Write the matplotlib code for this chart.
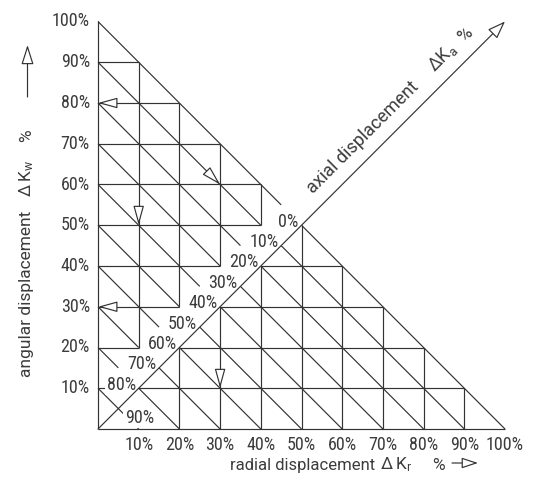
import math
import matplotlib
matplotlib.use('Agg')
import matplotlib.pyplot as plt

# scale values (percent)
radial_ticks = [10, 20, 30, 40, 50, 60, 70, 80, 90, 100]
angular_ticks = [10, 20, 30, 40, 50, 60, 70, 80, 90, 100]
tick_labels = ['10%', '20%', '30%', '40%', '50%', '60%', '70%', '80%', '90%', '100%']

# axial scale: value -> position on the diagonal (radial = angular)
axial_values = [0, 10, 20, 30, 40, 50, 60, 70, 80, 90]
axial_pos = [50, 45, 40, 35, 30, 25, 20, 15, 10, 5]

# example reading arrows: (radial %, angular %, direction deg)
example_arrows = [(0, 80, 180), (0, 30, 180), (10, 50, 270), (30, 60, 315), (30, 10, 270)]

line_col = '#333333'
text_col = '#3c3c3c'
lw = 0.85

plt.rcParams['font.family'] = ['Roboto', 'DejaVu Sans']
plt.rcParams['mathtext.default'] = 'regular'
num_family = ['Roboto Condensed', 'Roboto', 'DejaVu Sans']

fig = plt.figure(figsize=(5.39, 4.90), dpi=100)
ax = fig.add_axes([98 / 539, 61 / 490, 407 / 539, 407.5 / 490])
ax.set_xlim(0, 100)
ax.set_ylim(0, 100)
ax.axis('off')


def seg(p, q, z=2):
    ax.plot([p[0], q[0]], [p[1], q[1]], color=line_col, lw=lw, clip_on=False,
            solid_capstyle='butt', zorder=z)


# outer axes lines
seg((0, 0), (100, 0), z=4)
seg((0, 0), (0, 100), z=4)

# upper-left field (angular side)
for k in range(20, 100, 10):
    seg((0, k), (min(100 - k, k - 10), k))
for k in range(10, 50, 10):
    seg((k, k + 10), (k, 100 - k))
for c in range(10, 101, 10):
    end = c / 2 - 5 if c > 10 else c / 2
    seg((0, c), (end, c - end))

# lower-right field (radial side)
for k in range(10, 50, 10):
    seg((0 if k == 10 else k, k), (100 - k, k))
for k in range(20, 100, 10):
    seg((k, 0), (k, min(k, 100 - k)))
for c in range(10, 101, 10):
    seg((c / 2, c / 2), (c, 0))

# axial axis (diagonal) with open arrow head
ax.annotate('', xy=(100, 100), xytext=(0, 0), zorder=4, annotation_clip=False,
            arrowprops=dict(arrowstyle='-|>,head_length=1.1,head_width=0.4',
                            fc='white', ec=line_col, lw=lw, shrinkA=0, shrinkB=0))

# example arrows (open heads)
for x, y, ang in example_arrows:
    dx = -12 * math.cos(math.radians(ang))
    dy = -12 * math.sin(math.radians(ang))
    ax.annotate('', xy=(x, y), xytext=(dx, dy), textcoords='offset points', zorder=5,
                annotation_clip=False,
                arrowprops=dict(arrowstyle='-|>,head_length=1.2,head_width=0.33',
                                fc='white', ec=line_col, lw=lw, shrinkA=0, shrinkB=0))

# tick labels
fs = 13
for v, lab in zip(angular_ticks, tick_labels):
    ax.text(-2, v, lab, ha='right', va='center', fontsize=fs, color=text_col,
            family=num_family)
for v, lab in zip(radial_ticks, tick_labels):
    ax.text(v, -4, lab, ha='center', va='center', fontsize=fs, color=text_col,
            family=num_family)

# axial scale labels
for v, p in zip(axial_values, axial_pos):
    if v == 90:
        ax.annotate('%d%%' % v, xy=(p, p), xytext=(5, 0), textcoords='offset points',
                    ha='left', va='top', fontsize=fs, color=text_col, zorder=3,
                    family=num_family,
                    bbox=dict(boxstyle='square,pad=0.1', fc='white', ec='none'))
    else:
        ax.annotate('%d%%' % v, xy=(p, p), xytext=(-2, -1), textcoords='offset points',
                    ha='right', va='baseline', fontsize=fs, color=text_col, zorder=3,
                    family=num_family,
                    bbox=dict(boxstyle='square,pad=0.1', fc='white', ec='none'))

# axis titles
xl_base = (490 - 469.5) / 490
fig.text(230 / 539, xl_base, 'radial displacement', fontsize=12, color=text_col,
         ha='left', va='baseline')
fig.text(380 / 539, xl_base, r'$\Delta\,$K$_r$', fontsize=12.5, color=text_col,
         ha='left', va='baseline')
fig.text(432 / 539, xl_base, '%', fontsize=12.5, color=text_col, ha='left', va='baseline')
ax.annotate('', xy=(478, 490 - 463), xytext=(452, 490 - 463), xycoords='figure pixels',
            textcoords='figure pixels', annotation_clip=False,
            arrowprops=dict(arrowstyle='-|>,head_length=1.0,head_width=0.33',
                            fc='white', ec=line_col, lw=lw, shrinkA=0, shrinkB=0))

yl_base = 31 / 539
for txt, ypix in [('angular displacement', 377), (r'$\Delta\,$K$_w$', 197), ('%', 142)]:
    fig.text(yl_base, (490 - ypix) / 490, txt, fontsize=12.5, color=text_col, rotation=90,
             rotation_mode='anchor', ha='left', va='baseline')
ax.annotate('', xy=(27.5, 490 - 45), xytext=(27.5, 490 - 97), xycoords='figure pixels',
            textcoords='figure pixels', annotation_clip=False,
            arrowprops=dict(arrowstyle='-|>,head_length=1.2,head_width=0.38',
                            fc='white', ec=line_col, lw=lw, shrinkA=0, shrinkB=0))

# axial title, placed along the diagonal
for txt, t in [('axial displacement', 55.3), (r'$\Delta$K$_a$', 85.0), ('%', 92.3)]:
    ax.annotate(txt, xy=(t, t), xytext=(-7, 7), textcoords='offset points',
                rotation=45, rotation_mode='anchor', ha='left', va='baseline',
                fontsize=13, color=text_col, annotation_clip=False)

fig.savefig('out.png', dpi=100)
